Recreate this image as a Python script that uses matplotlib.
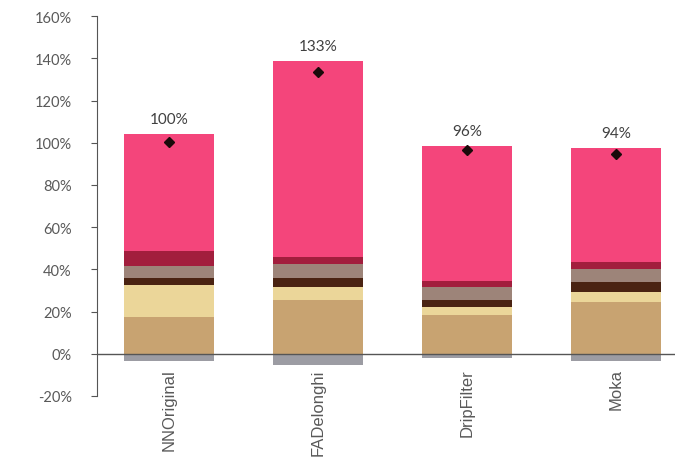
import numpy as np
import matplotlib
matplotlib.use("Agg")
import matplotlib.pyplot as plt

# data (percent of reference)
categories = ["NNOriginal", "FADelonghi", "DripFilter", "Moka"]
negative = [-3.6, -5.5, -2.0, -3.2]
tan = [17.4, 25.3, 18.2, 24.5]
yellow = [15.0, 6.3, 3.9, 5.0]
dark_brown = [3.5, 4.3, 3.2, 4.5]
taupe = [5.5, 6.8, 6.3, 6.0]
dark_red = [7.1, 3.1, 2.7, 3.5]
pink = [55.8, 93.1, 64.3, 54.1]
net_total = [100.5, 133.4, 96.6, 94.6]
total_labels = ["100%", "133%", "96%", "94%"]

stack = [tan, yellow, dark_brown, taupe, dark_red, pink]
colors = ["#C8A371", "#EBD699", "#4A2312", "#9D8479", "#A21E3D", "#F4457B"]
neg_color = "#9C9CA3"

fig = plt.figure(figsize=(6.77, 4.64), dpi=100)
ax = fig.add_axes([0.143, 0.1444, 0.854, 0.8186])

x = np.arange(len(categories))
w = 0.6
bottom = np.zeros(len(categories))
ax.bar(x, negative, width=w, color=neg_color, zorder=2)
for vals, c in zip(stack, colors):
    ax.bar(x, vals, width=w, bottom=bottom, color=c, zorder=2)
    bottom += np.array(vals)

ax.plot(x, net_total, "D", color="#1a0a0a", markersize=5, zorder=4)
for xi, top, lab in zip(x, bottom, total_labels):
    ax.text(xi, top + 3.6, lab, ha="center", va="bottom", fontsize=11,
            color="#404040", family="Lato")

ax.axhline(0, color="#555555", lw=1.0, zorder=3)
ax.set_xlim(-0.483, 3.396)
ax.set_ylim(-20, 160)
ax.set_yticks(np.arange(-20, 161, 20))
ax.set_yticklabels([f"{v}%" for v in range(-20, 161, 20)], family="Lato",
                   fontsize=10.5, color="#595959")
ax.tick_params(axis="y", direction="out", length=4, color="#555555", pad=14)
ax.set_xticks([])
for s in ["top", "right", "bottom"]:
    ax.spines[s].set_visible(False)
ax.spines["left"].set_color("#555555")

for xi, name in zip(x, categories):
    ax.text(xi, -6.8, name, rotation=90, ha="center", va="top", fontsize=12,
            color="#595959", family="Liberation Sans")

fig.savefig("out.png", dpi=100)
